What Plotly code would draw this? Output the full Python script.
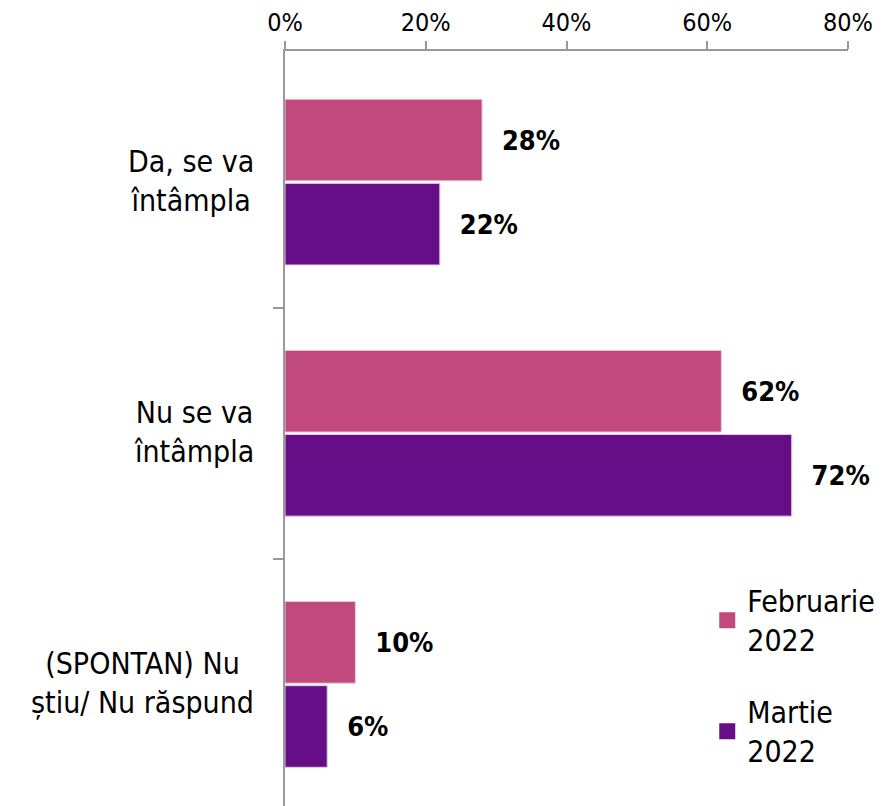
import plotly.graph_objects as go

categories = ["Da, se va<br>întâmpla", "Nu se va<br>întâmpla", "(SPONTAN) Nu<br>știu/ Nu răspund"]
feb_values = [28, 62, 10]
mar_values = [22, 72, 6]
series_names = ["Februarie<br>2022", "Martie<br>2022"]
series_colors = ["#C2497B", "#650E87"]
x_ticks = [0, 20, 40, 60, 80]
x_tick_labels = ["0%", "20%", "40%", "60%", "80%"]

FONT = "DejaVu Sans Condensed, DejaVu Sans, sans-serif"

fig = go.Figure()
for i, (name, vals) in enumerate(zip(series_names, [feb_values, mar_values])):
    fig.add_trace(go.Bar(
        name=name, y=categories, x=vals, orientation="h",
        marker=dict(color=series_colors[i], line=dict(color="#E8C8E0", width=1)),
        text=[f"\u00a0\u00a0{v}%" for v in vals], textposition="outside",
        textfont=dict(family=FONT, size=27, color="#000000", weight="bold"),
        cliponaxis=False, showlegend=False,
    ))
    # legend entry with a larger square swatch
    fig.add_trace(go.Scatter(
        name=name, x=[None], y=[None], mode="markers",
        marker=dict(symbol="square", size=16, color=series_colors[i]),
        legendgroup=f"g{i}", showlegend=True,
    ))

# category labels, centre-aligned lines
for cat in categories:
    fig.add_annotation(
        x=0, xref="paper", y=cat, yref="y", xanchor="right", yanchor="middle",
        xshift=-29, yshift=1, text=cat, showarrow=False, align="center",
        font=dict(family=FONT, size=30, color="#000000"),
    )

fig.update_layout(
    width=879, height=802,
    margin=dict(l=277, r=39, t=40, b=0),
    paper_bgcolor="white", plot_bgcolor="white",
    barmode="group", bargap=0.33, bargroupgap=0.03,
    font=dict(family=FONT, size=30, color="#000000"),
    showlegend=True,
    legend=dict(x=0.75, y=0.31, xanchor="left", yanchor="top",
                font=dict(family=FONT, size=30, color="#000000"),
                tracegroupgap=30, itemwidth=30, bgcolor="rgba(0,0,0,0)"),
    xaxis=dict(side="top", range=[0, 80], tickvals=x_ticks, ticktext=x_tick_labels,
               showgrid=False, zeroline=False, showline=True, linecolor="#999999",
               linewidth=2, ticks="outside", ticklen=8, tickcolor="#999999", tickwidth=2,
               tickfont=dict(family=FONT, size=25, color="#000000")),
    yaxis=dict(range=[2.5, -0.522], showgrid=False, zeroline=False, showline=True,
               linecolor="#999999", linewidth=2, ticks="outside",
               tickvals=[0.5, 1.5], ticktext=["", ""],
               ticklen=10, tickcolor="#999999", tickwidth=2, showticklabels=False),
)

fig.write_html("out.html")
